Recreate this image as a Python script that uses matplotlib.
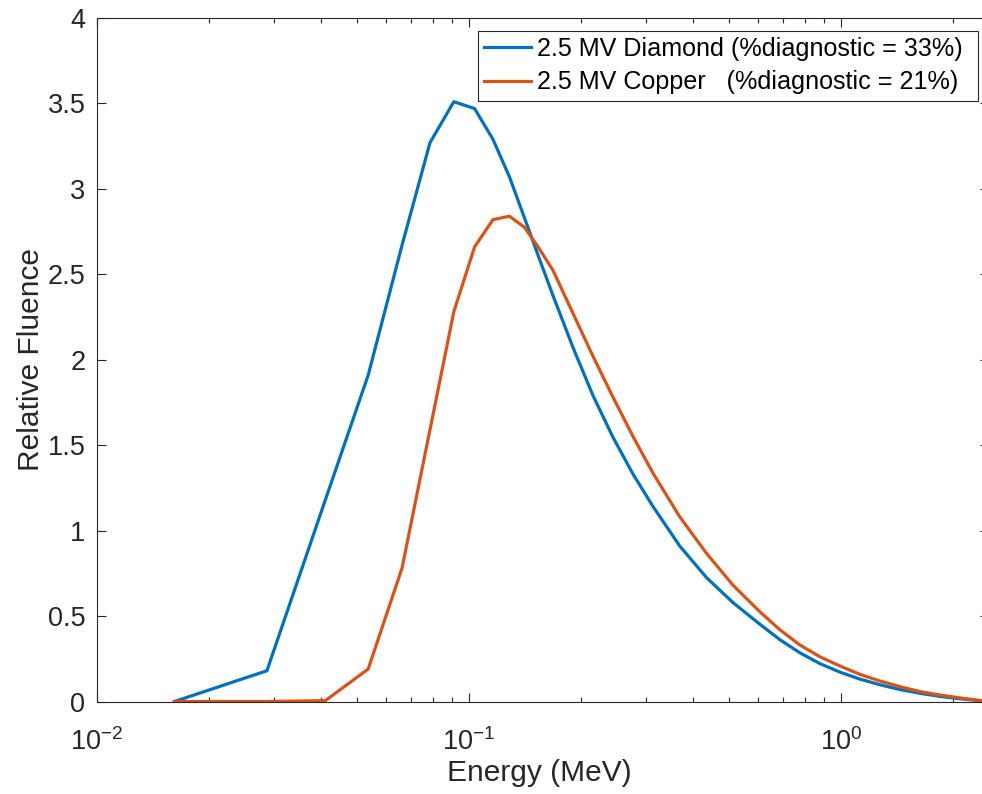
import matplotlib
matplotlib.use("Agg")
import matplotlib.pyplot as plt
from matplotlib.ticker import LogLocator, FuncFormatter, NullFormatter, MultipleLocator

# --- spectra (energy in MeV, relative fluence) ---
energy = [0.0162, 0.0287, 0.0412, 0.0537, 0.0662, 0.0787, 0.0912, 0.1037,
          0.1162, 0.1287, 0.1412, 0.1537, 0.1685, 0.1908, 0.2158, 0.2443,
          0.2765, 0.313, 0.369, 0.4355, 0.5135, 0.6058, 0.6855, 0.7757,
          0.878, 0.994, 1.125, 1.273, 1.441, 1.631, 1.845, 2.089, 2.364, 2.5]

fluence_diamond = [0.0, 0.18, 1.18, 1.91, 2.67, 3.27, 3.51, 3.47,
                   3.29, 3.07, 2.83, 2.61, 2.375, 2.07, 1.79, 1.545,
                   1.33, 1.14, 0.91, 0.725, 0.578, 0.452, 0.362, 0.285,
                   0.222, 0.172, 0.131, 0.098, 0.070, 0.048, 0.030, 0.016, 0.005, 0.0]

fluence_copper = [0.0, 0.0, 0.005, 0.19, 0.78, 1.59, 2.28, 2.66,
                  2.82, 2.84, 2.775, 2.66, 2.523, 2.27, 2.02, 1.78,
                  1.55, 1.335, 1.081, 0.867, 0.68, 0.525, 0.42, 0.331,
                  0.262, 0.208, 0.159, 0.120, 0.087, 0.058, 0.038, 0.021, 0.006, 0.0]

labels = ["2.5 MV Diamond (%diagnostic = 33%)",
          "2.5 MV Copper   (%diagnostic = 21%)"]
colors = ["#0072BD", "#D95319"]

plt.rcParams['font.family'] = ['Liberation Sans', 'DejaVu Sans']
plt.rcParams['mathtext.default'] = 'regular'
plt.rcParams['axes.unicode_minus'] = False

axis_gray = '#262626'

fig = plt.figure(figsize=(9.82, 7.94), dpi=100)
ax = fig.add_axes([96.5 / 982, 1 - 701.5 / 794, (989 - 96.5) / 982, 683.5 / 794])

ax.plot(energy, fluence_diamond, color=colors[0], linewidth=2.3, label=labels[0])
ax.plot(energy, fluence_copper, color=colors[1], linewidth=2.3, label=labels[1])

ax.set_xscale('log')
ax.set_xlim(0.01, 2.5)
ax.set_ylim(0, 4)

ax.xaxis.set_major_locator(LogLocator(base=10, numticks=10))
ax.xaxis.set_minor_locator(LogLocator(base=10, subs=range(2, 10), numticks=20))
ax.xaxis.set_minor_formatter(NullFormatter())
ax.yaxis.set_major_locator(MultipleLocator(0.5))
ax.yaxis.set_major_formatter(FuncFormatter(lambda v, p: f"{v:g}"))

ax.tick_params(which='both', direction='in', top=True, right=True,
               color=axis_gray, labelcolor=axis_gray, width=0.8)
ax.tick_params(which='major', length=6.5, labelsize=19.5)
ax.tick_params(which='minor', length=3.6)
ax.tick_params(axis='x', which='major', pad=19)
ax.tick_params(axis='y', which='major', pad=8)

for s in ax.spines.values():
    s.set_color(axis_gray)
    s.set_linewidth(0.8)

ax.set_xlabel("Energy (MeV)", fontsize=21.5, color=axis_gray)
ax.set_ylabel("Relative Fluence", fontsize=21.5, color=axis_gray)
ax.xaxis.set_label_coords(0.5 * (982 - 96.5) / (989 - 96.5), -0.084)
ax.yaxis.set_label_coords(-0.0575, 0.5)

# legend box pinned to the upper right corner, stretched to full width
leg = ax.legend(loc='upper left',
                bbox_to_anchor=(478 / 982, 1 - 97 / 794, 500 / 982, 66 / 794),
                bbox_transform=fig.transFigure, mode='expand', borderaxespad=0,
                fontsize=18.1, frameon=True, fancybox=False,
                handlelength=1.85, handletextpad=0.25, borderpad=0.25,
                labelspacing=0.36)
leg.get_frame().set_edgecolor(axis_gray)
leg.get_frame().set_linewidth(0.8)
leg.get_frame().set_alpha(1)

fig.savefig("out.png", dpi=100)
